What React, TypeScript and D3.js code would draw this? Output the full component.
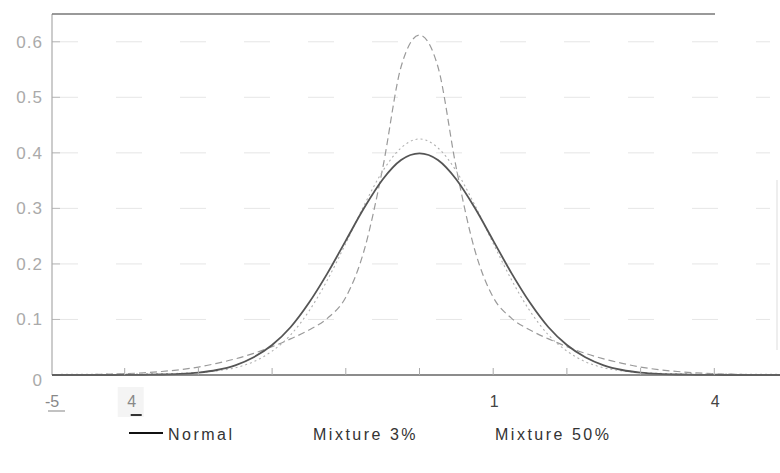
import React from "react";
import * as d3 from "d3";

const xs = [-5, -4.75, -4.5, -4.25, -4, -3.75, -3.5, -3.25, -3, -2.75, -2.5, -2.25, -2, -1.75, -1.5, -1.25, -1, -0.75, -0.5, -0.25, 0,
  0.25, 0.5, 0.75, 1, 1.25, 1.5, 1.75, 2, 2.25, 2.5, 2.75, 3, 3.25, 3.5, 3.75, 4, 4.25, 4.5, 4.75, 5];

// half curves read from x = 0 outward (symmetric shapes)
const normalHalf = [0.399, 0.387, 0.352, 0.301, 0.242, 0.183, 0.130, 0.086, 0.054, 0.032, 0.0175, 0.009, 0.0044, 0.002, 0.0009, 0.0004, 0.0001, 0, 0, 0, 0];
const mix3Half = [0.425, 0.409, 0.367, 0.306, 0.237, 0.171, 0.115, 0.072, 0.043, 0.024, 0.013, 0.0075, 0.0045, 0.003, 0.0023, 0.0019, 0.0017, 0.0015, 0.0013, 0.0011, 0.001];
const mix50Half = [0.612, 0.555, 0.372, 0.225, 0.14, 0.102, 0.081, 0.065, 0.051, 0.039, 0.029, 0.021, 0.0143, 0.0096, 0.0063, 0.0039, 0.0024, 0.0014, 0.0008, 0.0004, 0.0002];

const mirror = (h: number[]) => [...h.slice(1).reverse(), ...h];
const normalVals = mirror(normalHalf);
const mix3Vals = mirror(mix3Half);
const mix50Vals = mirror(mix50Half);

const yTicks = [0, 0.1, 0.2, 0.3, 0.4, 0.5, 0.6];
const yTickLabels = ["0", "0.1", "0.2", "0.3", "0.4", "0.5", "0.6"];
const xTicks = [-4, -3, -2, -1, 0, 1, 2, 3, 4];
const xLabelVals = [-5, -4, 1, 4];
const xLabelTexts = ["-5", "4", "1", "4"];
const legendNames = ["Normal", "Mixture 3%", "Mixture 50%"];

export default function App() {
  const W = 780, H = 473;
  const x = d3.scaleLinear().domain([-5, 5]).range([51, 788]);
  const y = d3.scaleLinear().domain([0, 0.65]).range([375, 14]);
  const line = (vals: number[]) =>
    d3.line<number>().x((_, i) => x(xs[i])).y((v) => y(v)).curve(d3.curveMonotoneX)(vals) || "";
  const font = "'Liberation Sans', Arial, sans-serif";
  const left = 52;

  return (
    <svg width={W} height={H} style={{ position: "absolute", left: 0, top: 0, background: "#fff" }} fontFamily={font}>
      <defs>
        <clipPath id="plot">
          <rect x={left} y={10} width={W - left} height={366} />
        </clipPath>
      </defs>
      {/* gridlines */}
      {yTicks.slice(1).map((t) => (
        <line key={"g" + t} x1={left} x2={770} y1={y(t)} y2={y(t)} stroke="#e6e6e6" strokeWidth={1} strokeDasharray="26 38" />
      ))}
      {/* y tick marks */}
      {yTicks.slice(1).map((t) => (
        <line key={"yt" + t} x1={left} x2={left + 8} y1={y(t)} y2={y(t)} stroke="#bbb" strokeWidth={1} />
      ))}
      {/* y labels */}
      {yTicks.map((t, i) => (
        <text key={"yl" + t} x={43} y={y(t) + (t === 0 ? 11 : 6)} textAnchor="end" fontSize={17} fill="#aaa" letterSpacing={1}>
          {yTickLabels[i]}
        </text>
      ))}
      {/* frame */}
      <line x1={left} x2={left} y1={y(0.65)} y2={y(0)} stroke="#aaa" strokeWidth={1.2} />
      <line x1={left} x2={715} y1={y(0.65)} y2={y(0.65)} stroke="#777" strokeWidth={1.6} />
      <line x1={777} x2={777} y1={180} y2={350} stroke="#ddd" strokeWidth={1} />
      {/* curves */}
      <g clipPath="url(#plot)">
        <path d={line(mix50Vals)} fill="none" stroke="#9a9a9a" strokeWidth={1.2} strokeDasharray="7 4" />
        <path d={line(mix3Vals)} fill="none" stroke="#b0b0b0" strokeWidth={1.1} strokeDasharray="2 3" />
        <path d={line(normalVals)} fill="none" stroke="#555" strokeWidth={1.8} />
      </g>
      {/* x axis */}
      <line x1={left} x2={780} y1={y(0)} y2={y(0)} stroke="#666" strokeWidth={1.6} />
      {xTicks.map((t) => (
        <line key={"xt" + t} x1={x(t)} x2={x(t)} y1={y(0)} y2={y(0) - 7} stroke="#aaa" strokeWidth={1} />
      ))}
      <rect x={x(-4) - 7} y={387} width={26} height={30} fill="#f4f4f4" />
      {xLabelVals.map((v, i) => (
        <text key={"xl" + i} x={x(v) + (i === 1 ? 7 : 1)} y={407} textAnchor="middle" fontSize={16}
          fill={i < 2 ? "#888" : "#444"}>
          {xLabelTexts[i]}
        </text>
      ))}
      <line x1={x(-5) - 3} x2={x(-5) + 14} y1={411} y2={411} stroke="#999" strokeWidth={1.2} />
      <line x1={x(-4) + 6} x2={x(-4) + 17} y1={415} y2={415} stroke="#333" strokeWidth={2} />
      {/* legend */}
      <line x1={129} x2={163} y1={433} y2={433} stroke="#111" strokeWidth={1.8} />
      {[168, 313, 495].map((lx, i) => (
        <text key={"lg" + i} x={lx} y={440} fontSize={16} fill="#333" letterSpacing={2.5}>
          {legendNames[i]}
        </text>
      ))}
    </svg>
  );
}
